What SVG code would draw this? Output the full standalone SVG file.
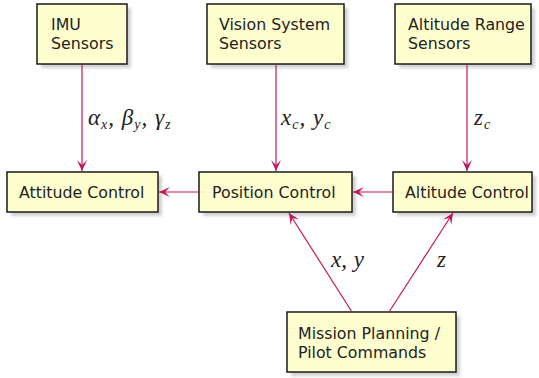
<svg xmlns="http://www.w3.org/2000/svg" width="539" height="378" viewBox="0 0 539 378">
<style>
.box{fill:#FEFECE;stroke:#1a1a1a;stroke-width:1.5}
.sh{fill:#000;opacity:0.18;filter:url(#blur)}
.t{font-family:"DejaVu Sans",sans-serif;font-size:15.8px;fill:#222}
.m{font-family:"Liberation Serif","DejaVu Serif",serif;font-style:italic;font-size:23px;fill:#222;white-space:pre}
.s{font-size:14px}
.c{stroke:#C2185B;stroke-width:1.2;fill:none;marker-end:url(#ah)}
</style>
<defs>
<filter id="blur" x="-20%" y="-20%" width="140%" height="140%"><feGaussianBlur stdDeviation="1.5"/></filter>
<marker id="ah" viewBox="0 0 12 12" refX="11" refY="6" markerWidth="12" markerHeight="12" markerUnits="userSpaceOnUse" orient="auto">
<path d="M0,1 L11,6 L0,11 L5,6 Z" fill="#C2185B"/>
</marker>
</defs>
<g id="imu"><rect class="sh" x="41" y="8" width="90" height="60"/><rect class="box" x="37" y="4" width="90" height="60"/><text class="t" x="51" y="30">IMU</text><text class="t" x="51" y="49">Sensors</text></g>
<g id="vision"><rect class="sh" x="211" y="8" width="137" height="60"/><rect class="box" x="207" y="4" width="137" height="60"/><text class="t" x="219" y="30">Vision System</text><text class="t" x="219" y="49">Sensors</text></g>
<g id="altrange"><rect class="sh" x="399" y="8" width="136" height="60"/><rect class="box" x="395" y="4" width="136" height="60"/><text class="t" x="408" y="30">Altitude Range</text><text class="t" x="408" y="49">Sensors</text></g>
<g id="attitude"><rect class="sh" x="11" y="176" width="151" height="40"/><rect class="box" x="7" y="172" width="151" height="40"/><text class="t" x="19" y="198">Attitude Control</text></g>
<g id="position"><rect class="sh" x="203" y="176" width="153" height="40"/><rect class="box" x="199" y="172" width="153" height="40"/><text class="t" x="212" y="198">Position Control</text></g>
<g id="altitude"><rect class="sh" x="397" y="176" width="139" height="40"/><rect class="box" x="393" y="172" width="139" height="40"/><text class="t" x="405" y="198">Altitude Control</text></g>
<g id="mission"><rect class="sh" x="291" y="316" width="169" height="60"/><rect class="box" x="287" y="312" width="169" height="60"/><text class="t" x="298" y="339">Mission Planning /</text><text class="t" x="298" y="358">Pilot Commands</text></g>
<g id="connectors">
<line class="c" x1="82" y1="65" x2="82" y2="171"/>
<line class="c" x1="276" y1="65" x2="276" y2="171"/>
<line class="c" x1="467" y1="65" x2="467" y2="171"/>
<line class="c" x1="199" y1="192" x2="159" y2="192"/>
<line class="c" x1="393" y1="192" x2="353" y2="192"/>
<line class="c" x1="352" y1="312" x2="289" y2="213"/>
<line class="c" x1="389" y1="312" x2="453" y2="213"/>
<text class="m" x="88" y="125">α<tspan class="s" dx="1" dy="4">x</tspan><tspan dx="1" dy="-4">, </tspan><tspan dx="2">β</tspan><tspan class="s" dx="1" dy="4">y</tspan><tspan dx="1" dy="-4">, </tspan><tspan dx="2">γ</tspan><tspan class="s" dx="1" dy="4">z</tspan></text>
<text class="m" x="281" y="125">x<tspan class="s" dx="1" dy="4">c</tspan><tspan dx="1" dy="-4">, </tspan><tspan dx="2">y</tspan><tspan class="s" dx="1" dy="4">c</tspan></text>
<text class="m" x="474" y="125">z<tspan class="s" dx="1" dy="4">c</tspan></text>
<text class="m" x="331" y="267">x, <tspan dx="1">y</tspan></text>
<text class="m" x="437" y="267">z</text>
</g>
</svg>
